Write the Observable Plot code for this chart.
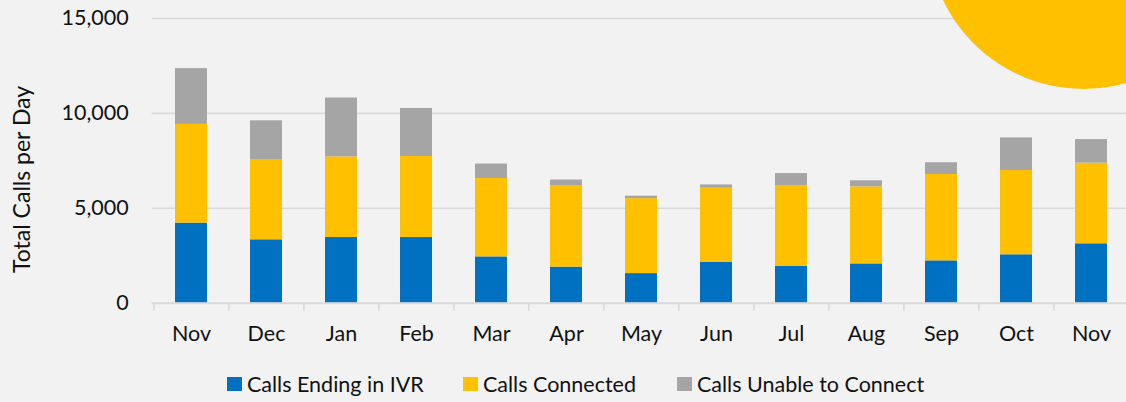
<!DOCTYPE html>
<html>
<head>
<meta charset="utf-8">
<script src="https://cdn.jsdelivr.net/npm/d3@7"></script>
<script src="https://cdn.jsdelivr.net/npm/@observablehq/plot@0.6"></script>
<style>
  html, body { margin: 0; padding: 0; background: #f2f2f2; overflow: hidden; }
  #wrap { position: relative; width: 1126px; height: 402px; overflow: hidden; font-family: Lato, sans-serif; color: #111; }
  #chart { position: absolute; left: 0; top: 0; }
  #sun { position: absolute; left: 927.5px; top: -222.5px; width: 311px; height: 311px; border-radius: 50%; background: #ffc000; z-index: 2; }
  #legend { position: absolute; left: 0; top: 365px; width: 1126px; height: 37px; font-size: 21.5px; }
  .item { position: absolute; top: 0; height: 37px; display: flex; align-items: center; white-space: nowrap; }
  .sw { width: 15px; height: 14px; margin-right: 5px; flex: none; }
</style>
</head>
<body>
<div id="wrap">
  <div id="chart"></div>
  <div id="sun"></div>
  <div id="legend"></div>
</div>
<script>
const months = ["Nov","Dec","Jan","Feb","Mar","Apr","May","Jun","Jul","Aug","Sep","Oct","Nov"];
const ivr       = [4220, 3340, 3460, 3460, 2440, 1900, 1560, 2160, 1950, 2070, 2230, 2550, 3130];
const connected = [5200, 4200, 4250, 4270, 4130, 4300, 3950, 3900, 4250, 4060, 4550, 4440, 4250];
const unable    = [2940, 2070, 3100, 2530,  760,  290,  130,  170,  630,  320,  620, 1720, 1240];
const seriesNames = ["Calls Ending in IVR", "Calls Connected", "Calls Unable to Connect"];
const seriesColors = ["#0070c0", "#ffc000", "#a5a5a5"];
const yTicks = [0, 5000, 10000, 15000];

const seriesValues = [ivr, connected, unable];
const table = [];
months.forEach((m, i) => {
  seriesNames.forEach((s, k) => table.push({idx: i, month: m, series: s, value: seriesValues[k][i]}));
});

const H = 362;
const y0 = 302.7;
const step = 75.2;

const chart = Plot.plot({
  width: 1126,
  height: H,
  marginLeft: 151.7,
  marginRight: 0,
  marginTop: 18,
  marginBottom: H - y0,
  style: {background: "transparent", fontFamily: "Lato, sans-serif", fontSize: "21.5px", color: "#111", overflow: "visible"},
  x: {domain: d3.range(months.length), range: [151.7, 151.7 + step * months.length], paddingInner: 0.574, paddingOuter: 0.287, label: null},
  y: {domain: [0, 15000], label: null},
  color: {domain: seriesNames, range: seriesColors},
  marks: [
    Plot.gridY({ticks: yTicks.slice(1), stroke: "#d9d9d9", strokeOpacity: 1, strokeWidth: 1.6}),
    Plot.barY(table, {x: "idx", y: "value", fill: "series", order: seriesNames}),
    Plot.ruleY([0], {stroke: "#d9d9d9", strokeWidth: 2}),
    Plot.axisX({tickSize: 8, tickFormat: () => "", dx: -step / 2, stroke: "#d9d9d9", strokeWidth: 1.5, strokeOpacity: 1}),
    Plot.axisX({tickSize: 0, tickPadding: 23, tickFormat: i => months[i], fill: "#111", fontSize: 21.5}),
    Plot.axisY({ticks: yTicks, tickSize: 0, tickPadding: 23.5, tickFormat: d3.format(","), fill: "#111", fontSize: 21.5}),
    Plot.text(["Total Calls per Day"], {text: d => d, frameAnchor: "left", textAnchor: "middle", lineAnchor: "middle", rotate: -90, dx: -130, dy: 18.6, fill: "#111", fontSize: 23})
  ]
});
document.getElementById("chart").appendChild(chart);

const lg = document.getElementById("legend");
const itemLeft = [227, 463, 677];
seriesNames.forEach((s, k) => {
  const it = document.createElement("div");
  it.className = "item";
  it.style.left = itemLeft[k] + "px";
  const sw = document.createElement("span");
  sw.className = "sw";
  sw.style.background = seriesColors[k];
  const tx = document.createElement("span");
  tx.textContent = s;
  it.appendChild(sw);
  it.appendChild(tx);
  lg.appendChild(it);
});
</script>
</body>
</html>
